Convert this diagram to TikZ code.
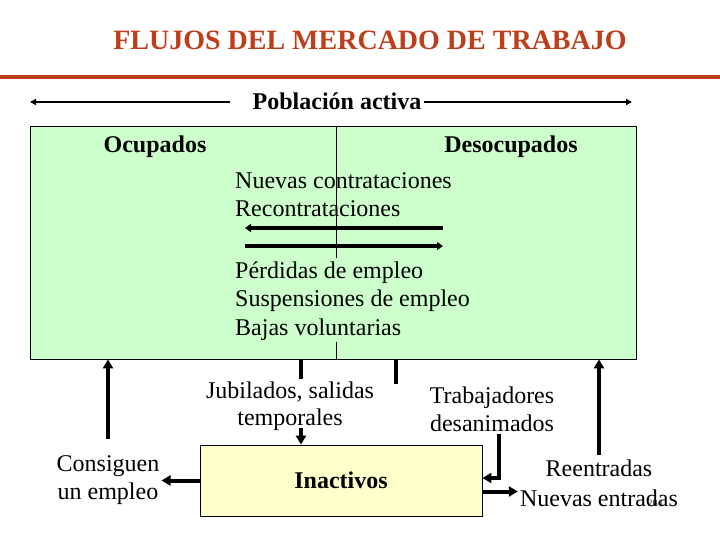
\documentclass[tikz,border=0pt]{standalone}
\usepackage{fontspec}
\setmainfont{Liberation Serif}
\usetikzlibrary{arrows.meta}
\definecolor{titlered}{RGB}{190,62,28}
\definecolor{activegreen}{RGB}{204,255,204}
\definecolor{inactyellow}{RGB}{255,255,204}
\tikzset{
  txt/.style={font=\fontsize{24}{28}\selectfont, inner sep=2pt},
  boldtxt/.style={font=\fontsize{24}{28}\selectfont\bfseries, inner sep=2pt},
  flow/.style={line width=4pt, -{Triangle[length=9pt,width=10pt]}},
  midflow/.style={line width=4pt, -{Triangle[length=6pt,width=8pt]}},
  thinflow/.style={line width=2pt, -{Triangle[length=6pt,width=6pt]}},
  stub/.style={line width=4pt},
}
\begin{document}
\begin{tikzpicture}[x=1pt,y=-1pt]
  \useasboundingbox (0,0) rectangle (720,540);

  \node[font=\fontsize{28}{32}\selectfont\bfseries, text=titlered] (title) at (370,40) {FLUJOS DEL MERCADO DE TRABAJO};
  \draw[titlered, line width=4pt] (0,77) -- (720,77);

  \node[boldtxt] (activa) at (337,101) {Población activa};
  \coordinate (actL) at (30,102);
  \coordinate (actR) at (632,102);
  \draw[thinflow] ([xshift=-20pt,yshift=-1pt]activa.west) -- (actL);
  \draw[thinflow] ([yshift=-1pt]activa.east) -- (actR);

  \node[draw, line width=0.8pt, fill=activegreen, minimum width=606pt, minimum height=233pt, inner sep=0pt] (activos) at (333,242.5) {};
  \draw[line width=0.8pt] (336,126) -- (336,258);
  \draw[line width=0.8pt] (336,342) -- (336,359);

  \node[boldtxt] (ocup) at (155,147) {Ocupados};
  \node[boldtxt] (desocup) at (511,147) {Desocupados};

  \node[txt, anchor=west, align=left] (altas) at (233,195) {Nuevas contrataciones\\Recontrataciones};
  \node[txt, anchor=west, align=left, font=\fontsize{24}{28.5}\selectfont] (bajas) at (233,301) {Pérdidas de empleo\\Suspensiones de empleo\\Bajas voluntarias};

  \coordinate (hL1) at (245,228);
  \coordinate (hR1) at (443,228);
  \coordinate (hL2) at (245,246);
  \coordinate (hR2) at (443,246);
  \draw[midflow] (hR1) -- (hL1);
  \draw[midflow] (hL2) -- (hR2);

  \node[draw, line width=0.8pt, fill=inactyellow, minimum width=282pt, minimum height=71pt, inner sep=0pt, font=\fontsize{24}{28}\selectfont\bfseries] (inact) at (341,480.5) {Inactivos};

  \node[txt, align=center] (consig) at (108,480) {Consiguen\\un empleo};
  \node[txt, align=center, font=\fontsize{24}{27}\selectfont] (jub) at (290,406) {Jubilados, salidas\\temporales};
  \node[txt, align=center] (trab) at (492,409) {Trabajadores\\desanimados};
  \node[txt, align=center, font=\fontsize{24}{29.5}\selectfont] (reent) at (599,483.5) {Reentradas\\Nuevas entradas};
  \node[font=\fontsize{10}{12}\selectfont, text=black!80] (pagenum) at (655,503) {204};

  \coordinate (jx) at (301,0);
  \coordinate (tx) at (396,0);
  \coordinate (dx) at (499,0);

  \draw[flow] ([yshift=14pt]consig.north) -- (consig.north |- activos.south);
  \draw[stub] (activos.south -| jx) -- (jub.north -| jx);
  \draw[flow] ([yshift=5pt]jub.south -| jx) -- (inact.north -| jx);
  \draw[stub] (activos.south -| tx) -- (trab.north -| tx);
  \draw[flow] (trab.south -| dx) |- ([yshift=2.5pt]inact.east);
  \draw[flow] (inact.west) -- (inact.west -| consig.east);
  \draw[flow] ([yshift=-11pt]inact.east) -- ([yshift=-11pt]inact.east -| reent.west);
  \draw[flow] ([yshift=3pt]reent.north) -- (reent.north |- activos.south);
\end{tikzpicture}
\end{document}
